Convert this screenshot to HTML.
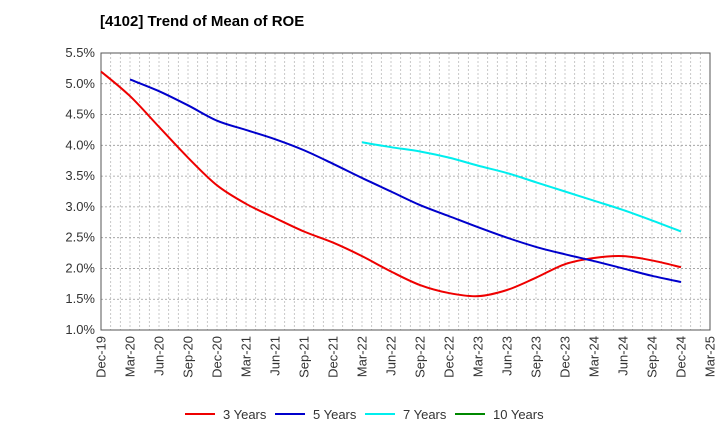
<!DOCTYPE html>
<html><head><meta charset="utf-8"><style>
body{margin:0;background:#fff;font-family:"Liberation Sans",sans-serif}
</style></head><body>
<svg width="720" height="440" xmlns="http://www.w3.org/2000/svg">
<text x="100" y="26" font-size="15" font-weight="bold" fill="#000">[4102]  Trend of Mean of ROE</text>
<g id="grid"></g><g id="axes"></g><g id="series"></g><g id="legend"></g>
</svg>
<script>
const xLabels=["Dec-19","Mar-20","Jun-20","Sep-20","Dec-20","Mar-21","Jun-21","Sep-21","Dec-21","Mar-22","Jun-22","Sep-22","Dec-22","Mar-23","Jun-23","Sep-23","Dec-23","Mar-24","Jun-24","Sep-24","Dec-24","Mar-25"];
const yTicks=[1.0,1.5,2.0,2.5,3.0,3.5,4.0,4.5,5.0,5.5];
const s3=[5.2,4.8,4.3,3.8,3.35,3.05,2.82,2.6,2.42,2.2,1.95,1.73,1.6,1.55,1.65,1.85,2.07,2.17,2.2,2.13,2.02];
const s5=[null,5.07,4.88,4.65,4.4,4.25,4.1,3.92,3.7,3.47,3.25,3.03,2.85,2.67,2.5,2.35,2.23,2.12,2.0,1.88,1.78];
const s7=[null,null,null,null,null,null,null,null,null,4.05,3.97,3.9,3.8,3.67,3.55,3.4,3.25,3.1,2.95,2.78,2.6];
const s10=[];
const NS="http://www.w3.org/2000/svg";
const L=101,R=710,T=53,B=330;
const xs=i=>L+i*(R-L)/(xLabels.length-1);
const ys=v=>B-(v-1.0)*(B-T)/4.5;
function mk(t,a,p){const e=document.createElementNS(NS,t);for(const k in a)e.setAttribute(k,a[k]);p.appendChild(e);return e;}
const g=document.getElementById('grid'),ax=document.getElementById('axes'),se=document.getElementById('series'),lg=document.getElementById('legend');
for(let m=1;m<(xLabels.length-1)*3;m++){const x=L+m*(R-L)/((xLabels.length-1)*3);
const l=mk('line',{x1:x,x2:x,y1:T,y2:B,stroke:'#bbb','stroke-dasharray':'2,2','stroke-width':0.8},g);

}
yTicks.forEach(v=>{const y=ys(v);
const l=mk('line',{x1:L,x2:R,y1:y,y2:y,stroke:'#999','stroke-dasharray':'2,2','stroke-width':0.8},g);


const t=mk('text',{x:L-6,y:y+4,'text-anchor':'end','font-size':13,fill:'#333'},ax);t.textContent=v.toFixed(1)+'%';

});
xLabels.forEach((s,i)=>{const x=xs(i);
const t=mk('text',{transform:`translate(${x+4.5},${B+6}) rotate(-90)`,'text-anchor':'end','font-size':13,fill:'#333'},ax);t.textContent=s;

});
const fr=mk('rect',{x:L,y:T,width:R-L,height:B-T,fill:'none',stroke:'#555','stroke-width':1},ax);


function path(arr){const p=[];arr.forEach((v,i)=>{if(v!=null)p.push([xs(i),ys(v)]);});if(p.length<2)return '';
let d=`M${p[0][0]},${p[0][1]}`;for(let i=0;i<p.length-1;i++){const p0=p[Math.max(0,i-1)],p1=p[i],p2=p[i+1],p3=p[Math.min(p.length-1,i+2)];
d+=` C${p1[0]+(p2[0]-p0[0])/6},${p1[1]+(p2[1]-p0[1])/6} ${p2[0]-(p3[0]-p1[0])/6},${p2[1]-(p3[1]-p1[1])/6} ${p2[0]},${p2[1]}`;}return d;}
const series=[[s3,'#e00','3 Years','line-3-years'],[s5,'#00c','5 Years','line-5-years'],[s7,'#0ee','7 Years','line-7-years'],[s10,'#080','10 Years','line-10-years']];
series.forEach((s,k)=>{const d=path(s[0]);if(d){const p=mk('path',{d:d,fill:'none',stroke:s[1],'stroke-width':2},se);

}
const lx=[185,275,365,455][k];
const e=mk('g',{},lg);


mk('line',{x1:lx,x2:lx+30,y1:414,y2:414,stroke:s[1],'stroke-width':2},e);
const t=mk('text',{x:lx+38,y:419,'font-size':13,fill:'#333'},e);t.textContent=s[2];});
</script>
</body></html>
